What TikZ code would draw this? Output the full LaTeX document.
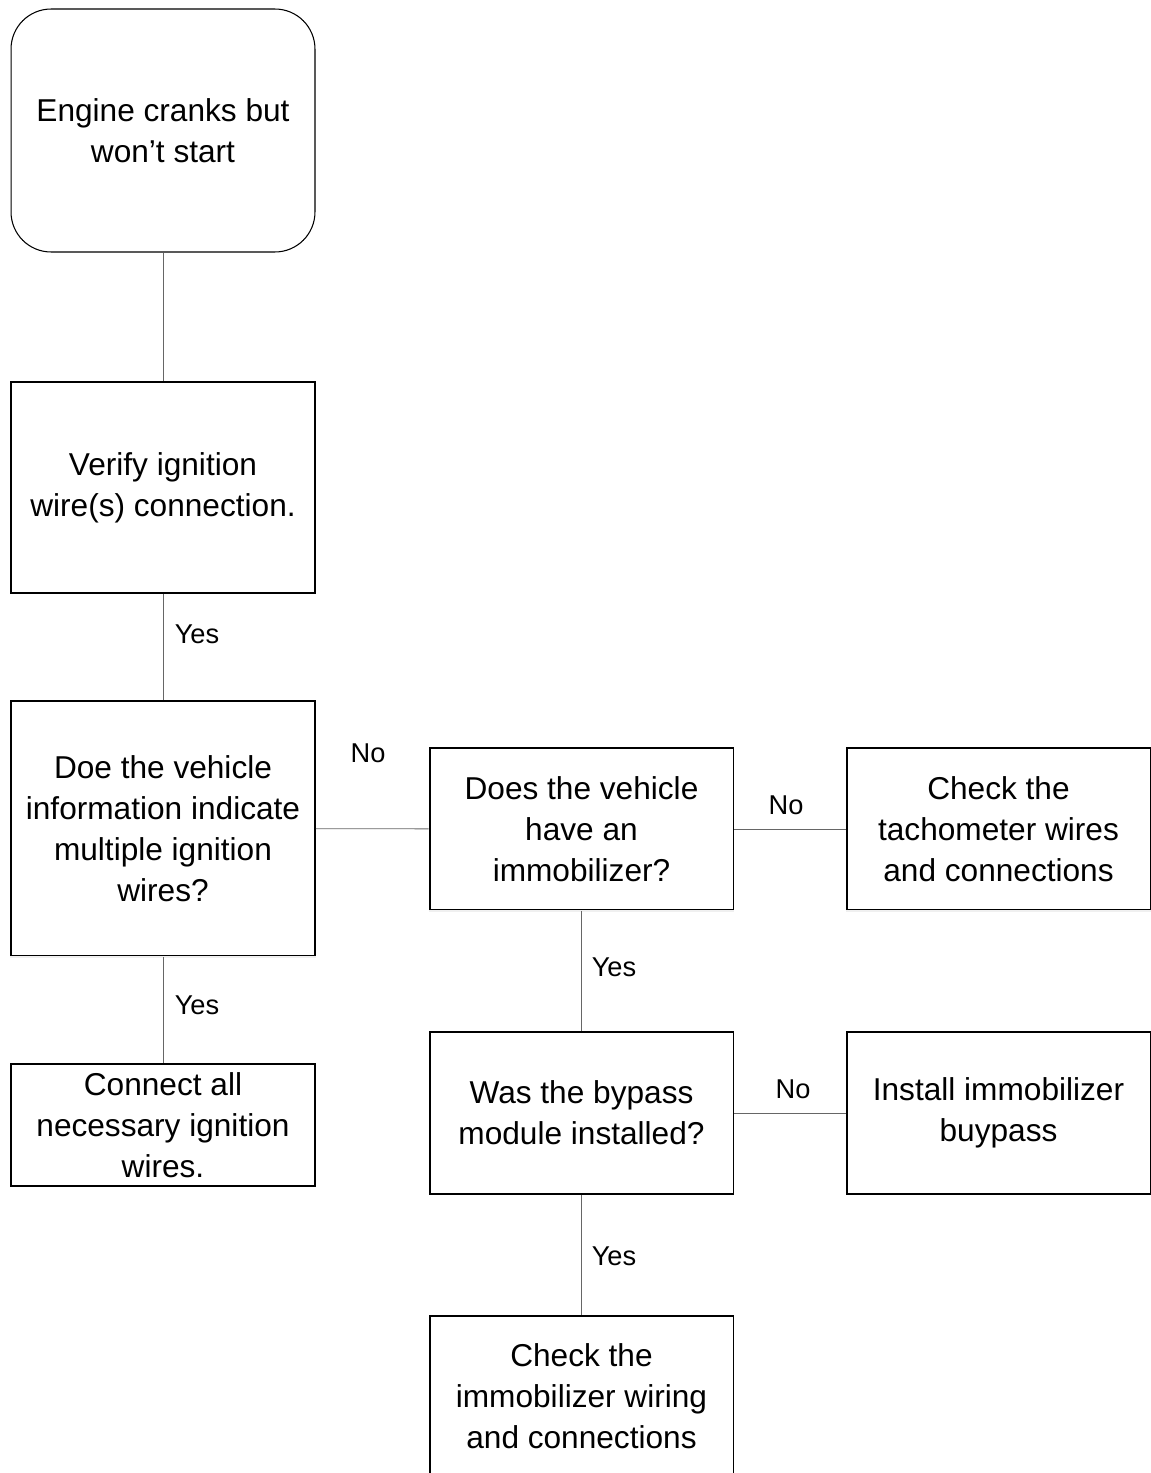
\documentclass[tikz,border=0pt]{standalone}
\usepackage{fontspec}
\setmainfont{Liberation Sans}
\usetikzlibrary{positioning}

\tikzset{
  stepbox/.style={draw=black, line width=1.1pt, minimum width=6.08cm, align=center,
    font=\fontsize{18}{23.3}\selectfont, inner sep=0pt},
  startbox/.style={stepbox, line width=0.6pt, rounded corners=0.8cm},
  link/.style={draw=black!60, line width=0.5pt},
  answer/.style={font=\fontsize{15.5}{18}\selectfont, inner sep=0pt},
  openedge/.style={draw=black!6, line width=1.4pt}
}

\begin{document}
\begin{tikzpicture}[x=0.02cm, y=-0.02cm]
\useasboundingbox (0,0) rectangle (1151,1473);

% boxes
\node[startbox, minimum height=4.86cm] (start) at (163,130.5) {Engine cranks but\\won't start};
\node[stepbox, minimum height=4.22cm] (verify) at (163,487.5) {Verify ignition\\wire(s) connection.};
\node[stepbox, minimum height=5.10cm] (multi) at (163,828.5) {Doe the vehicle\\information indicate\\multiple ignition\\wires?};
\node[stepbox, minimum height=2.44cm] (connect) at (163,1125) {Connect all\\necessary ignition\\wires.};
\node[stepbox, minimum height=3.24cm] (immob) at (581.5,829) {Does the vehicle\\have an\\immobilizer?};
\node[stepbox, minimum height=3.24cm] (tacho) at (998.5,829) {Check the\\tachometer wires\\and connections};
\node[stepbox, minimum height=3.24cm] (bypass) at (581.5,1113) {Was the bypass\\module installed?};
\node[stepbox, minimum height=3.24cm] (install) at (998.5,1113) {Install immobilizer\\buypass};
\node[stepbox, minimum height=3.20cm] (wiring) at (581.5,1396) {Check the\\immobilizer wiring\\and connections};

% faint bottom edges
\draw[openedge] (multi.south west) -- (multi.south east);
\draw[openedge] (immob.south west) -- (immob.south east);
\draw[openedge] (tacho.south west) -- (tacho.south east);

% connectors
\draw[link] (start) -- (verify);
\draw[link] (verify) -- (multi);
\draw[link] (multi) -- (connect);
\draw[link] (multi) -- (immob);
\draw[link] (immob) -- (tacho);
\draw[link] (immob) -- (bypass);
\draw[link] (bypass) -- (install);
\draw[link] (bypass) -- (wiring);

% answers
\node[answer] (yes1) at (197,634) {Yes};
\node[answer] (yes2) at (197,1005) {Yes};
\node[answer] (no1) at (368,753) {No};
\node[answer] (no2) at (786,805) {No};
\node[answer] (yes3) at (614,967) {Yes};
\node[answer] (no3) at (793,1089) {No};
\node[answer] (yes4) at (614,1256) {Yes};

\end{tikzpicture}
\end{document}
